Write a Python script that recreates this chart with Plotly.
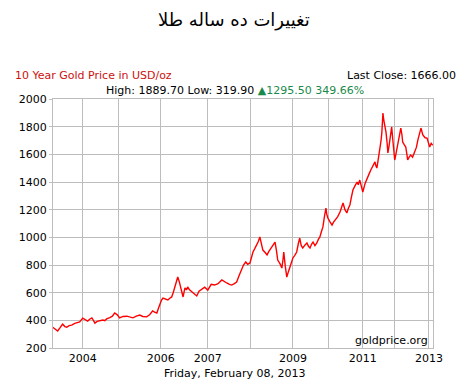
import plotly.graph_objects as go

# decimal-year positions and gold prices (USD/oz)
years = [2003.10, 2003.16, 2003.23, 2003.29, 2003.36, 2003.42, 2003.47, 2003.53, 2003.60, 2003.68,
         2003.75, 2003.81, 2003.89, 2003.95, 2004.02, 2004.08, 2004.13, 2004.17, 2004.21, 2004.27,
         2004.34, 2004.42, 2004.47, 2004.52, 2004.60, 2004.67, 2004.73, 2004.80, 2004.86, 2004.95,
         2005.05, 2005.12, 2005.21, 2005.30, 2005.39, 2005.47, 2005.57, 2005.65, 2005.73, 2005.78,
         2005.84, 2005.88, 2005.92, 2005.96, 2006.00, 2006.06, 2006.13, 2006.18, 2006.23, 2006.27,
         2006.31, 2006.35, 2006.39, 2006.43, 2006.47, 2006.50, 2006.53, 2006.56, 2006.58, 2006.62,
         2006.65, 2006.70, 2006.76, 2006.82, 2006.89, 2006.95, 2007.02, 2007.10, 2007.18, 2007.27,
         2007.36, 2007.45, 2007.55, 2007.61, 2007.68, 2007.75, 2007.81, 2007.88, 2007.94, 2008.00,
         2008.07, 2008.12, 2008.18, 2008.23, 2008.29, 2008.33, 2008.37, 2008.42, 2008.47, 2008.51,
         2008.55, 2008.59, 2008.63, 2008.69, 2008.74, 2008.78, 2008.81, 2008.88, 2008.95, 2008.99,
         2009.02, 2009.08, 2009.13, 2009.16, 2009.18, 2009.22, 2009.26, 2009.30, 2009.34, 2009.38,
         2009.42, 2009.47, 2009.52, 2009.56, 2009.60, 2009.64, 2009.68, 2009.74, 2009.79, 2009.83,
         2009.87, 2009.91, 2009.95, 2010.00, 2010.05, 2010.09, 2010.13, 2010.17, 2010.21, 2010.25,
         2010.29, 2010.31, 2010.34, 2010.40, 2010.45, 2010.49, 2010.53, 2010.60, 2010.66, 2010.70,
         2010.74, 2010.79, 2010.84, 2010.88, 2010.92, 2010.96, 2011.00, 2011.05, 2011.11, 2011.14,
         2011.18, 2011.22, 2011.26, 2011.32, 2011.37, 2011.42, 2011.47, 2011.53, 2011.58, 2011.60,
         2011.63, 2011.67, 2011.71, 2011.74, 2011.76, 2011.79, 2011.81, 2011.83, 2011.87, 2011.90,
         2011.92, 2011.95, 2011.97, 2012.00, 2012.02, 2012.05, 2012.08, 2012.10, 2012.13, 2012.16,
         2012.21, 2012.26, 2012.29, 2012.31, 2012.35, 2012.39, 2012.42, 2012.44, 2012.48, 2012.52,
         2012.57, 2012.63, 2012.67, 2012.71, 2012.75, 2012.79, 2012.82, 2012.84, 2012.90, 2012.95,
         2012.98, 2013.02, 2013.06, 2013.10]
prices = [350, 340, 323, 345, 372, 355, 350, 362, 365, 378,
          385, 388, 416, 405, 395, 410, 418, 400, 380, 392,
          395, 402, 398, 410, 420, 430, 453, 440, 418, 428,
          430, 425, 418, 430, 438, 428, 425, 440, 468, 460,
          453, 485, 525, 545, 561, 555, 547, 560, 569, 600,
          641, 680, 713, 680, 641, 600, 569, 610, 634, 620,
          641, 620, 605, 590, 576, 610, 627, 640, 619, 660,
          655, 665, 692, 680, 670, 660, 655, 665, 677, 720,
          764, 800, 822, 805, 815, 860, 894, 920, 945, 970,
          1003, 950, 908, 890, 872, 895, 908, 930, 966, 900,
          836, 810, 778, 840, 894, 790, 713, 750, 786, 820,
          851, 870, 894, 950, 995, 940, 923, 945, 959, 935,
          923, 950, 966, 940, 959, 985, 1003, 1040, 1075, 1150,
          1212, 1170, 1140, 1110, 1089, 1110, 1125, 1150, 1183, 1215,
          1248, 1200, 1176, 1210, 1234, 1290, 1342, 1370, 1400, 1380,
          1414, 1370, 1328, 1390, 1429, 1455, 1487, 1520, 1545, 1520,
          1501, 1570, 1631, 1700, 1754, 1899, 1850, 1826, 1760, 1680,
          1610, 1660, 1704, 1760, 1798, 1704, 1620, 1559, 1600, 1646,
          1720, 1790, 1740, 1689, 1670, 1653, 1600, 1559, 1580, 1595,
          1580, 1617, 1650, 1704, 1750, 1790, 1760, 1740, 1720, 1718,
          1690, 1653, 1680, 1666]

tick_vals = [2003.89, 2004.84, 2005.94, 2007.18, 2008.31, 2009.42, 2010.36, 2011.26, 2012.10, 2013.00]
tick_text = ["2004", "", "2006", "2007", "", "2009", "", "2011", "", "2013"]
y_ticks = [200, 400, 600, 800, 1000, 1200, 1400, 1600, 1800, 2000]

FONT = "DejaVu Sans"
GRID = "#bdbdbd"
W, H = 471, 387
L, R, T, B = 53, 38, 99, 39

fig = go.Figure()
fig.add_trace(go.Scatter(x=years, y=prices, mode="lines",
                         line=dict(color="#ff0000", width=1.4), showlegend=False,
                         hoverinfo="skip"))

fig.update_layout(
    width=W, height=H,
    margin=dict(l=L, r=R, t=T, b=B, autoexpand=False),
    paper_bgcolor="white", plot_bgcolor="white",
    font=dict(family=FONT, size=11, color="black"),
    xaxis=dict(range=[2003.107, 2013.107], tickmode="array", tickvals=tick_vals, ticktext=tick_text,
               showgrid=True, gridcolor=GRID, gridwidth=1, zeroline=False,
               showline=True, linecolor=GRID, mirror=True, ticks="", ticklen=0,
               automargin=False,
               tickfont=dict(family=FONT, size=11, color="black")),
    yaxis=dict(range=[200, 2000], tickmode="array", tickvals=y_ticks,
               showgrid=True, gridcolor=GRID, gridwidth=1, zeroline=False,
               showline=True, linecolor=GRID, mirror=True, ticks="outside", ticklen=3,
               tickcolor=GRID, automargin=False,
               tickfont=dict(family=FONT, size=11, color="black")),
)

annots = [
    dict(text="تغییرات ده ساله طلا", x=234, y=20, size=18, color="black", xanchor="center"),
    dict(text="10 Year Gold Price in USD/oz", x=13, y=76, size=11, color="#cc1111", xanchor="left"),
    dict(text="Last Close: 1666.00", x=458, y=76, size=11, color="black", xanchor="right"),
    dict(text="High: 1889.70 Low: 319.90 <span style='color:#1a8a4a'>▲1295.50 349.66%</span>",
         x=235, y=90, size=11, color="black", xanchor="center"),
    dict(text="Friday, February 08, 2013", x=235, y=373, size=11, color="black", xanchor="center"),
    dict(text="goldprice.org", x=430, y=340, size=11, color="black", xanchor="right"),
]
pw, ph = W - L - R, H - T - B
for a in annots:
    fig.add_annotation(text=a["text"], x=(a["x"] - L) / pw, y=(H - B - a["y"]) / ph,
                       xref="paper", yref="paper", xanchor=a["xanchor"], yanchor="middle",
                       showarrow=False, font=dict(family=FONT, size=a["size"], color=a["color"]))

fig.write_html("out.html", config={"displayModeBar": False},
               post_script="document.body.style.margin='0';document.body.style.padding='0';")
